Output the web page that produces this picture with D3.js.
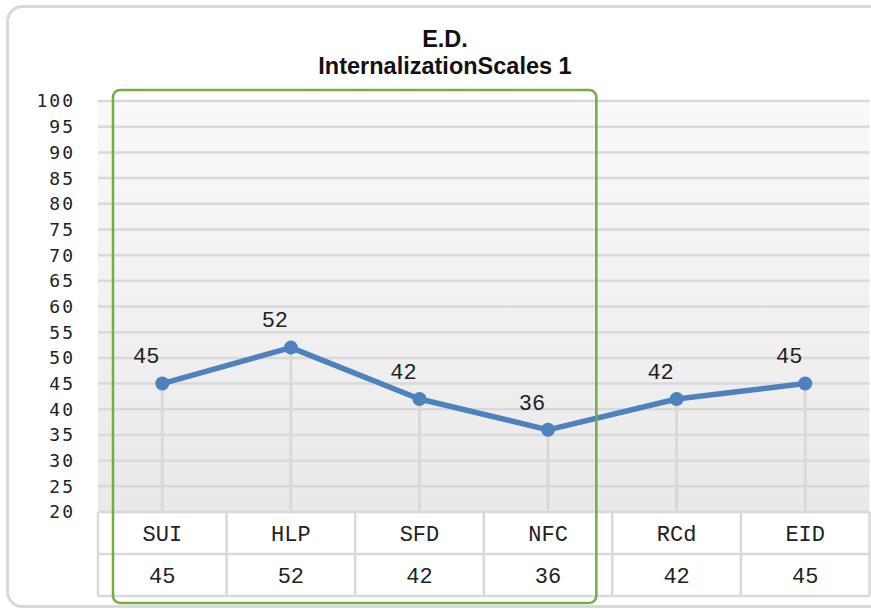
<!DOCTYPE html>
<html><head><meta charset="utf-8">
<script src="https://cdn.jsdelivr.net/npm/d3@7"></script>
<style>body{margin:0;background:#fff}svg{display:block}</style>
</head><body>
<svg id="c" width="871" height="609"></svg>
<script>
const titleLines = ["E.D.", "InternalizationScales 1"];
const categories = ["SUI", "HLP", "SFD", "NFC", "RCd", "EID"];
const values = [45, 52, 42, 36, 42, 45];
const yTicks = [20,25,30,35,40,45,50,55,60,65,70,75,80,85,90,95,100];
const highlighted = ["SUI", "HLP", "SFD", "NFC"];

const svg = d3.select("#c");
const L = 98, R = 869.5, T = 101, B = 512;
const x = d3.scaleBand().domain(categories).range([L, R]).padding(0);
const y = d3.scaleLinear().domain([20, 100]).range([B, T]);
const rowH = 42;

// outer border
svg.append("rect").attr("x", 7.5).attr("y", 6.5).attr("width", 890).attr("height", 600)
  .attr("rx", 15).attr("fill", "#fff").attr("stroke", "#d9d9d9").attr("stroke-width", 3);

// gradient
const defs = svg.append("defs");
const g = defs.append("linearGradient").attr("id", "bg").attr("x1", 0).attr("y1", 0).attr("x2", 0).attr("y2", 1);
g.append("stop").attr("offset", "0%").attr("stop-color", "#f9f9f9");
g.append("stop").attr("offset", "100%").attr("stop-color", "#e9e9e9");
svg.append("rect").attr("x", L).attr("y", T).attr("width", R - L).attr("height", B - T).attr("fill", "url(#bg)");

// title
svg.append("g").selectAll("text").data(titleLines).join("text")
  .attr("x", 445).attr("y", (d, i) => 47 + i * 27)
  .attr("text-anchor", "middle").attr("font-family", "Liberation Sans, Arial, sans-serif")
  .attr("font-weight", "bold").attr("font-size", 23.5).attr("fill", "#111").text(d => d);

// gridlines
svg.append("g").selectAll("line").data(yTicks).join("line")
  .attr("x1", L).attr("x2", R).attr("y1", d => y(d)).attr("y2", d => y(d))
  .attr("stroke", "#d9d9d9").attr("stroke-width", 2.5);

// y tick labels
svg.append("g").selectAll("text").data(yTicks).join("text")
  .attr("x", 75).attr("y", d => y(d)).attr("dy", "0.36em")
  .attr("text-anchor", "end").attr("font-family", "DejaVu Sans Mono, monospace")
  .attr("font-size", 18).attr("letter-spacing", 2).attr("fill", "#222").text(d => d);

// drop lines
svg.append("g").selectAll("line").data(categories).join("line")
  .attr("x1", d => x(d) + x.bandwidth() / 2).attr("x2", d => x(d) + x.bandwidth() / 2)
  .attr("y1", (d, i) => y(values[i])).attr("y2", B)
  .attr("stroke", "#d9d9d9").attr("stroke-width", 3);

// table
const tbl = svg.append("g");
tbl.append("rect").attr("x", L).attr("y", B).attr("width", R - L).attr("height", rowH * 2).attr("fill", "#fff");
tbl.selectAll("line.h").data([B, B + rowH, B + 2 * rowH]).join("line").attr("class", "h")
  .attr("x1", L).attr("x2", R).attr("y1", d => d).attr("y2", d => d)
  .attr("stroke", "#d9d9d9").attr("stroke-width", 2.5);
const edges = categories.map(c => x(c)).concat([R]);
tbl.selectAll("line.v").data(edges).join("line").attr("class", "v")
  .attr("x1", d => d).attr("x2", d => d).attr("y1", B).attr("y2", B + 2 * rowH)
  .attr("stroke", "#d9d9d9").attr("stroke-width", 2.5);
const mono = "Liberation Mono, Courier New, monospace";
tbl.selectAll("text.cat").data(categories).join("text").attr("class", "cat")
  .attr("x", d => x(d) + x.bandwidth() / 2).attr("y", B + rowH / 2).attr("dy", "0.35em")
  .attr("text-anchor", "middle").attr("font-family", mono).attr("font-size", 22)
  .attr("fill", "#222").text(d => d);
tbl.selectAll("text.val").data(values).join("text").attr("class", "val")
  .attr("x", (d, i) => x(categories[i]) + x.bandwidth() / 2).attr("y", B + rowH * 1.5).attr("dy", "0.35em")
  .attr("text-anchor", "middle").attr("font-family", mono).attr("font-size", 22)
  .attr("fill", "#222").text(d => d);

// line
const pts = categories.map((c, i) => [x(c) + x.bandwidth() / 2, y(values[i])]);
svg.append("path").attr("d", d3.line()(pts)).attr("fill", "none")
  .attr("stroke", "#4f81bd").attr("stroke-width", 5.5).attr("stroke-linejoin", "round");
svg.append("g").selectAll("circle").data(pts).join("circle")
  .attr("cx", d => d[0]).attr("cy", d => d[1]).attr("r", 7).attr("fill", "#4f81bd");

// data labels
svg.append("g").selectAll("text").data(values).join("text")
  .attr("x", (d, i) => pts[i][0] - 16).attr("y", (d, i) => pts[i][1] - 28).attr("dy", "0.35em")
  .attr("text-anchor", "middle").attr("font-family", mono).attr("font-size", 22)
  .attr("fill", "#222").text(d => d);

// highlight box
const hx0 = x(highlighted[0]) + 15;
const hx1 = x(highlighted[highlighted.length - 1]) + x.bandwidth() - 16;
svg.append("rect").attr("x", hx0).attr("y", 90).attr("width", hx1 - hx0).attr("height", 513)
  .attr("rx", 7).attr("fill", "none").attr("stroke", "#70ad47").attr("stroke-width", 2.5);
</script>
</body></html>
